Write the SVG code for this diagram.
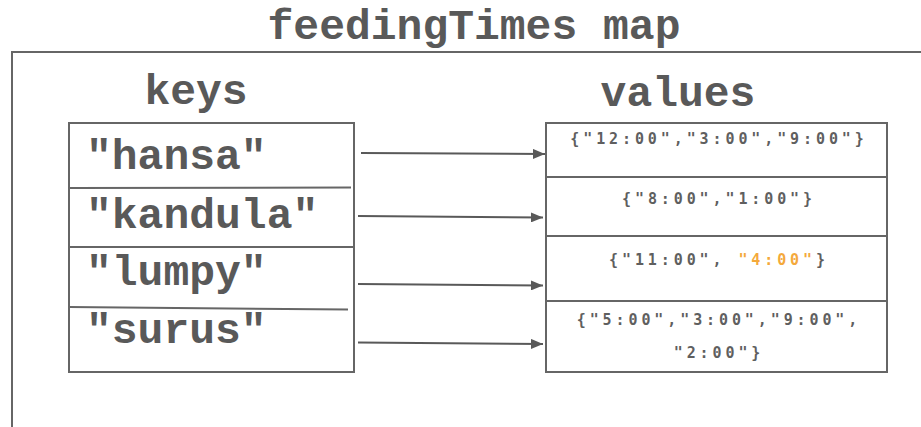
<svg xmlns="http://www.w3.org/2000/svg" width="921" height="427" viewBox="0 0 921 427">
<defs>
<style>
.big{font-family:"Courier New","Nimbus Mono PS","Nimbus Mono L","FreeMono",Courier,"Liberation Mono",monospace;font-weight:bold;font-size:43px;fill:#595959}
.val{font-family:"DejaVu Sans Mono",monospace;font-weight:bold;font-size:15px;fill:#5f5f5f;letter-spacing:3.9px;text-anchor:middle}
.box{fill:#ffffff;stroke:#666666;stroke-width:2}
.div{stroke:#666666;stroke-width:2;fill:none}
.conn{stroke:#595959;stroke-width:2;fill:none;marker-end:url(#arrow)}
</style>
<marker id="arrow" viewBox="0 0 12 10" refX="12" refY="5" markerWidth="12" markerHeight="10" markerUnits="userSpaceOnUse" orient="auto">
<path d="M0,0 L12,5 L0,10 Z" fill="#595959"/>
</marker>
</defs>
<rect width="921" height="427" fill="#ffffff"/>
<g id="frame">
<path d="M12,427 V52 H921" class="div"/>
<text class="big" x="474" y="39" text-anchor="middle">feedingTimes map</text>
</g>
<g id="keys">
<text class="big" x="196" y="104" text-anchor="middle">keys</text>
<rect class="box" x="69" y="123" width="285" height="249"/>
<path class="div" d="M69,188 L351,187.5 M69,247 L353,247 M69,307 L348,309.5"/>
<text class="big" x="86" y="169">"hansa"</text>
<text class="big" x="86" y="228">"kandula"</text>
<text class="big" x="86" y="285">"lumpy"</text>
<text class="big" x="86" y="343">"surus"</text>
</g>
<g id="values">
<text class="big" x="678" y="106" text-anchor="middle">values</text>
<rect class="box" x="546" y="123" width="341" height="249"/>
<path class="div" d="M546,177 L886,177 M546,236 L887,236 M546,301 L887,301"/>
<text class="val" x="719" y="144">{"12:00","3:00","9:00"}</text>
<text class="val" x="719" y="204">{"8:00","1:00"}</text>
<text class="val" x="719" y="265">{"11:00", <tspan fill="#f4a93b">"4:00"</tspan>}</text>
<text class="val" x="719" y="325">{"5:00","3:00","9:00",</text>
<text class="val" x="719" y="358">"2:00"}</text>
</g>
<g id="connectors">
<path class="conn" d="M361,153 L545,154"/>
<path class="conn" d="M358,216 L543,217.5"/>
<path class="conn" d="M358,284 L543,285.5"/>
<path class="conn" d="M358,342.5 L543,344"/>
</g>
</svg>
